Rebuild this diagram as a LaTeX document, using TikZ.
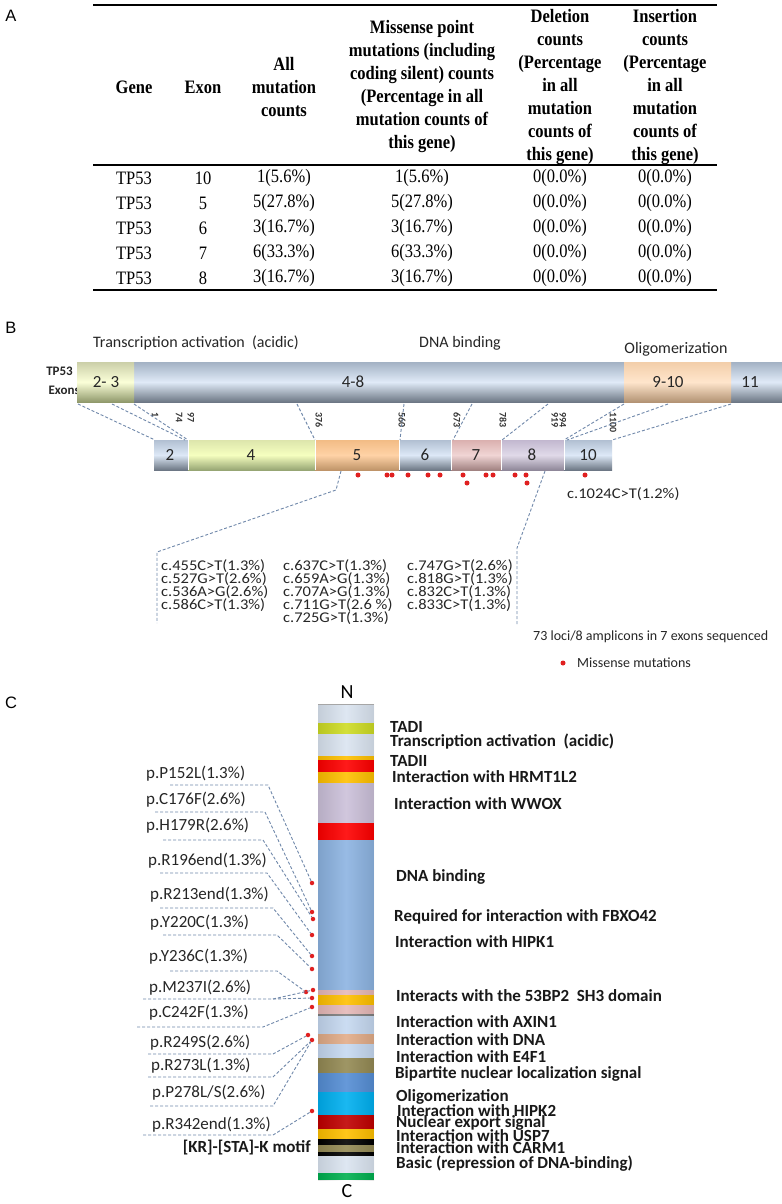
\documentclass[tikz,border=0pt]{standalone}
\usepackage{fontspec}
\setmainfont{Carlito}
\newfontfamily\tnr{Liberation Serif}
\newfontfamily\arl{Liberation Sans}
\definecolor{dashc}{HTML}{7088AA}
\definecolor{mutred}{HTML}{E02020}
\definecolor{cLB}{HTML}{DBE5F1}
\definecolor{cYel}{HTML}{CEDC24}
\definecolor{cOr}{HTML}{FFC000}
\definecolor{cRed}{HTML}{FF0000}
\definecolor{cLav}{HTML}{CCC1DA}
\definecolor{cBlue}{HTML}{8DB4E2}
\definecolor{cPink}{HTML}{E6B9B8}
\definecolor{cLB2}{HTML}{C6D9F1}
\definecolor{cTan}{HTML}{E2AC88}
\definecolor{cOl}{HTML}{948A54}
\definecolor{cMB}{HTML}{558ED5}
\definecolor{cCy}{HTML}{00B0F0}
\definecolor{cDR}{HTML}{C00000}
\definecolor{cGr}{HTML}{00B050}
\begin{document}
\begin{tikzpicture}[x=1bp,y=-1bp,
  panel/.style={font=\arl\fontsize{16.5bp}{18bp}\selectfont, inner sep=0},
  tabh/.style={font=\tnr\bfseries\fontsize{16.5bp}{20bp}\selectfont, align=center, yscale=1.15, inner sep=0},
  tabc/.style={font=\tnr\fontsize{16.5bp}{20bp}\selectfont, yscale=1.15, inner sep=0},
  rulel/.style={line width=1.8bp},
  domlbl/.style={font=\fontsize{16bp}{18bp}\selectfont, inner sep=0, text=black!85},
  seglbl/.style={font=\fontsize{17bp}{19bp}\selectfont, inner sep=0, text=black!85},
  poslbl/.style={font=\bfseries\fontsize{10bp}{11bp}\selectfont, rotate=-90, anchor=west, inner sep=0, text=black!80},
  conn/.style={draw=dashc, dash pattern=on 3bp off 2bp, line width=0.9bp},
  mut/.style={font=\fontsize{16.5bp}{13bp}\selectfont, anchor=west, inner sep=0, yscale=0.9, text=black!85},
  mdot/.style={circle, fill=mutred, inner sep=0, minimum size=5bp},
  plbl/.style={font=\fontsize{17bp}{19bp}\selectfont, anchor=west, inner sep=0, text=black!85},
  flbl/.style={font=\bfseries\fontsize{17bp}{19bp}\selectfont, anchor=west, inner sep=0, text=black!90},
  bluebar/.style={top color=cLB2!85!black!90, bottom color=cLB2!55!black, middle color=cLB2!60!white},
]
\useasboundingbox (0,0) rectangle (782,1204);
\fill[white] (0,0) rectangle (782,1204);

%% ---------------- Panel A ----------------
\node[panel] (lblA) at (11,16) {A};
\draw[rulel] (93,5) -- (717,5);
\draw[rulel] (93,165) -- (717,165);
\draw[rulel] (93,290) -- (717,290);
\node[tabh] (hGene) at (134,87) {Gene};
\node[tabh] (hExon) at (203,87) {Exon};
\node[tabh] (hAll) at (284,87) {All\\mutation\\counts};
\node[tabh] (hMis) at (422,87) {Missense point\\mutations (including\\coding silent) counts\\(Percentage in all\\mutation counts of\\this gene)};
\node[tabh] (hDel) at (560,87) {Deletion\\counts\\(Percentage\\in all\\mutation\\counts of\\this gene)};
\node[tabh] (hIns) at (665,87) {Insertion\\counts\\(Percentage\\in all\\mutation\\counts of\\this gene)};
\foreach \e/\a [count=\i] in {10/1(5.6\%), 5/5(27.8\%), 6/3(16.7\%), 7/6(33.3\%), 8/3(16.7\%)}{
  \node[tabc] (rg\i) at (134,{178+25*(\i-1)}) {TP53};
  \node[tabc] (re\i) at (203,{178+25*(\i-1)}) {\e};
  \node[tabc] (ra\i) at (284,{178+25*(\i-1)}) {\a};
  \node[tabc] (rm\i) at (422,{178+25*(\i-1)}) {\a};
  \node[tabc] (rd\i) at (560,{178+25*(\i-1)}) {0(0.0\%)};
  \node[tabc] (ri\i) at (665,{178+25*(\i-1)}) {0(0.0\%)};
}

%% ---------------- Panel B ----------------
\node[panel] (lblB) at (11,328) {B};
\node[domlbl] (dTA) at (196,343) {Transcription activation\ \ (acidic)};
\node[domlbl] (dDNA) at (460,343) {DNA binding};
\node[domlbl] (dOl) at (676,349) {Oligomerization};
\node[font=\bfseries\fontsize{13bp}{15bp}\selectfont, anchor=east, inner sep=0, text=black!85] (tpA) at (73,371) {TP53};
\node[font=\bfseries\fontsize{13bp}{15bp}\selectfont, anchor=east, inner sep=0, text=black!85] (tpB) at (80,390) {Exons};
% top bar
\shade[top color=cLB2!80!black!95, bottom color=cLB2!55!black, middle color=cLB2!55!white] (134,362) rectangle (624,402);
\shade[top color=cLB2!80!black!95, bottom color=cLB2!55!black, middle color=cLB2!55!white] (731,362) rectangle (782,402);
\shade[top color=green!10!yellow!20!white!80!black!95, bottom color=green!20!yellow!30!white!60!black, middle color=green!10!yellow!15!white] (77,362) rectangle (134,402);
\shade[top color=orange!30!white!95!black, bottom color=orange!35!white!70!black, middle color=orange!20!white] (624,362) rectangle (731,402);
\node[seglbl] (s23) at (106,382) {2- 3};
\node[seglbl] (s48) at (353,382) {4-8};
\node[seglbl] (s910) at (668,382) {9-10};
\node[seglbl] (s11) at (750,382) {11};
% lower bar
\shade[bluebar] (154,440) rectangle (188,470);
\shade[top color=green!15!yellow!25!white!90!black, bottom color=green!30!yellow!30!white!65!black, middle color=green!15!yellow!25!white] (188,440) rectangle (315,470);
\shade[top color=orange!45!white!95!black, bottom color=orange!45!white!75!black, middle color=orange!35!white] (315,440) rectangle (399,470);
\shade[bluebar] (399,440) rectangle (451,470);
\shade[top color=cPink!95!black, bottom color=cPink!70!black, middle color=cPink!60!white] (451,440) rectangle (501,470);
\shade[top color=cLav!95!black, bottom color=cLav!70!black, middle color=cLav!60!white] (501,440) rectangle (564,470);
\shade[bluebar] (564,440) rectangle (612,470);
\foreach \xx in {188,315,399,451,501,564}{\draw[white, line width=0.8bp] (\xx,440) -- (\xx,470);}
\node[seglbl] (e2) at (170,455) {2};
\node[seglbl] (e4) at (251,455) {4};
\node[seglbl] (e5) at (357,455) {5};
\node[seglbl] (e6) at (425,455) {6};
\node[seglbl] (e7) at (476,455) {7};
\node[seglbl] (e8) at (532,455) {8};
\node[seglbl] (e10) at (588,455) {10};
% position numbers
\foreach \xx/\tt [count=\i] in {155/1,179/74,191/97,319/376,402/560,457/673,503/783,555/919,563/994,613/1100}{
  \node[poslbl] (p\i) at (\xx,412) {\tt};
}
% connectors top bar -> lower bar
\foreach \xa/\xb [count=\i] in {78/155,112/185,134/188,297/315,404/400,472/453,548/502,624/564,668/567,731/612}{
  \coordinate (tt\i) at (\xa,404);
  \coordinate (bb\i) at (\xb,440);
  \draw[conn] (tt\i) -- (bb\i);
}
% mutation dots
\foreach \xx/\yy [count=\i] in {358/475,387/475,392/475,408/475,428/475,440/475,463/475,467/483,486/475,493/475,515/475,526/475,527/483,585/475}{
  \node[mdot] (bd\i) at (\xx,\yy) {};
}
% brackets
\coordinate (bl1) at (341,471);
\coordinate (bl2) at (336,490);
\coordinate (bl3) at (157,552);
\coordinate (bl4) at (157,623);
\draw[conn] (bl1) -- (bl2) -- (bl3) -- (bl4);
\coordinate (br1) at (545,471);
\coordinate (br2) at (517,548);
\coordinate (br3) at (517,624);
\draw[conn] (br1) -- (br2) -- (br3);
\node[mut] (c1024) at (567,494) {c.1024C>T(1.2\%)};
\foreach \xx/\yy/\tt [count=\i] in {
 161/566/{c.455C>T(1.3\%)},161/579/{c.527G>T(2.6\%)},161/592/{c.536A>G(2.6\%)},161/605/{c.586C>T(1.3\%)},
 283/566/{c.637C>T(1.3\%)},283/579/{c.659A>G(1.3\%)},283/592/{c.707A>G(1.3\%)},283/605/{c.711G>T(2.6 \%)},283/618/{c.725G>T(1.3\%)},
 407/566/{c.747G>T(2.6\%)},407/579/{c.818G>T(1.3\%)},407/592/{c.832C>T(1.3\%)},407/605/{c.833C>T(1.3\%)}}{
  \node[mut] (ml\i) at (\xx,\yy) {\tt};
}
\node[font=\fontsize{14bp}{16bp}\selectfont, anchor=west, inner sep=0, text=black!85] (loci) at (533,637) {73 loci/8 amplicons in 7 exons sequenced};
\node[mdot] (legdot) at (563,663) {};
\node[font=\fontsize{14bp}{16bp}\selectfont, anchor=west, inner sep=0, text=black!85] (legtxt) at (577,663) {Missense mutations};

%% ---------------- Panel C ----------------
\node[panel] (lblC) at (11,703) {C};
\foreach \ya/\yb/\cc in {704/723/cLB,723/734/cYel,734/756/cLB,756/760/cOr,760/772/cRed,772/783/cOr,783/823/cLav,823/840/cRed,840/990/cBlue,990/995/cPink,995/1005/cOr,1005/1014/cPink,1014/1016/gray,1016/1034/cLB2,1034/1044/cTan,1044/1058/cLB2,1058/1073/cOl,1073/1092/cMB,1092/1115/cCy,1115/1129/cDR,1129/1139/cOr,1139/1145/black,1145/1152/cOl,1152/1156/black,1156/1173/cLB,1173/1180/cGr}{
  \fill[\cc] (318,\ya) rectangle (374,\yb);
}
\shade[left color=black, right color=black, middle color=white, opacity=0.10] (318,704) rectangle (374,1180);
\draw[gray!70, line width=0.8bp] (318,704) -- (374,704);
\node[font=\fontsize{20bp}{22bp}\selectfont, inner sep=0] (nN) at (347,692) {N};
\node[font=\fontsize{20bp}{22bp}\selectfont, inner sep=0] (nC) at (347,1191) {C};
% feature labels
\foreach \xx/\yy/\tt [count=\i] in {
 390/727/{TADI},390/742/{Transcription activation\ \ (acidic)},390/761/{TADII},392/777/{Interaction with HRMT1L2},
 394/804/{Interaction with WWOX},396/877/{DNA binding},394/917/{Required for interaction with FBXO42},
 395/942/{Interaction with HIPK1},396/996/{Interacts with the 53BP2\ \ SH3 domain},396/1022/{Interaction with AXIN1},
 396/1040/{Interaction with DNA},396/1057/{Interaction with E4F1},395/1074/{Bipartite nuclear localization signal},
 396/1097/{Oligomerization},397/1111/{Interaction with HIPK2},396/1123/{Nuclear export signal},
 396/1136/{Interaction with USP7},396/1148/{Interaction with CARM1},396/1164/{Basic (repression of DNA-binding)}}{
  \node[flbl] (f\i) at (\xx,\yy) {\tt};
}
\node[font=\bfseries\fontsize{17bp}{19bp}\selectfont, anchor=east, inner sep=0, text=black!90] (motif) at (311,1148) {[KR]-[STA]-K motif};
% mutation dots near the bar
\foreach \xx/\yy [count=\i] in {312/883,312/912,313/919,312/935,312/956,312/969,313/990,306/992,312/998,312/1007,308/1035,312/1040,312/1111}{
  \node[mdot, minimum size=4.5bp] (cd\i) at (\xx,\yy) {};
}
% protein labels with underline connectors
\foreach \xx/\yy/\tt/\ua/\ub/\uy/\dd [count=\i] in {
 146/774/{p.P152L(1.3\%)}/170/268/785/1,
 146/800/{p.C176F(2.6\%)}/155/265/812/2,
 146/826/{p.H179R(2.6\%)}/163/263/840/3,
 148/861/{p.R196end(1.3\%)}/160/267/873/4,
 150/895/{p.R213end(1.3\%)}/160/273/908/5,
 150/923/{p.Y220C(1.3\%)}/163/277/935/6,
 149/957/{p.Y236C(1.3\%)}/170/277/971/8,
 149/988/{p.M237I(2.6\%)}/143/273/999/7,
 149/1013/{p.C242F(1.3\%)}/137/263/1027/10,
 150/1043/{p.R249S(2.6\%)}/148/273/1054/11,
 151/1066/{p.R273L(1.3\%)}/148/273/1077/12,
 152/1093/{p.P278L/S(2.6\%)}/150/273/1106/12,
 152/1125/{p.R342end(1.3\%)}/143/273/1135/13}{
  \node[plbl] (pl\i) at (\xx,\yy) {\tt};
  \coordinate (ua\i) at (\ua,\uy);
  \coordinate (ub\i) at (\ub,\uy);
  \draw[conn] (ua\i) -- (ub\i) -- (cd\dd);
}
\draw[conn] (ub8) -- (cd9);
\end{tikzpicture}
\end{document}
